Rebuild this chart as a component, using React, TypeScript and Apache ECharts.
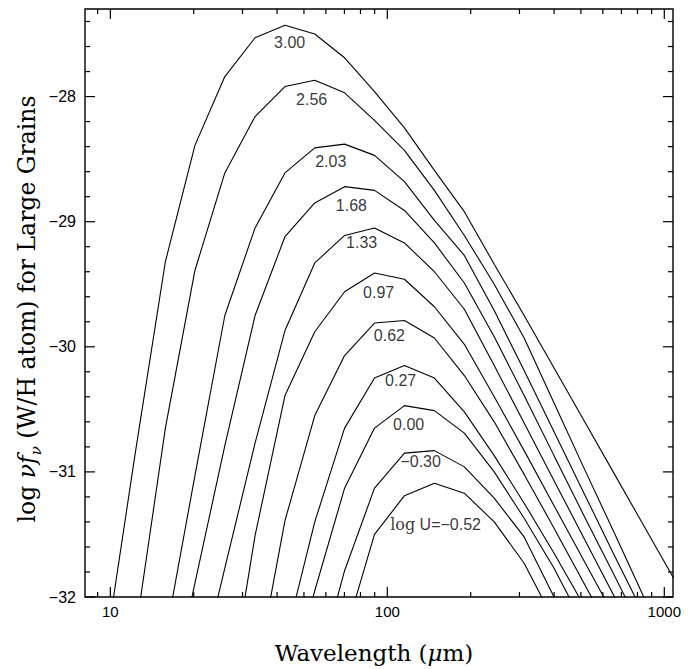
import React, { useEffect, useRef } from "react";
import * as echarts from "echarts";

// Wavelength grid (micron) shared by all spectra
const wavelength = [9.6, 12.3, 15.8, 20.2, 25.9, 33.3, 42.7, 54.7, 70.1, 89.9, 115.3, 147.9, 189.7, 243.2, 311.9, 399.9, 512.9, 657.7, 843.4, 1081];

// log(nu f_nu) per H atom for each radiation intensity log U
const sedU300 = [-32.43, -30.85, -29.32, -28.39, -27.84, -27.53, -27.43, -27.5, -27.69, -27.96, -28.25, -28.59, -28.92, -29.34, -29.75, -30.17, -30.59, -31.01, -31.43, -31.85];
const sedU256 = [null, -32.3, -30.65, -29.39, -28.61, -28.16, -27.92, -27.87, -27.97, -28.19, -28.43, -28.75, -29.11, -29.5, -29.93, -30.45, -30.97, -31.48, -32.0, -32.52];
const sedU203 = [null, null, -32.32, -31.03, -29.75, -29.05, -28.61, -28.41, -28.38, -28.47, -28.68, -28.99, -29.27, -29.71, -30.19, -30.68, -31.17, -31.66, -32.14, null];
const sedU168 = [null, null, -33.0, -31.89, -30.79, -29.75, -29.12, -28.85, -28.72, -28.75, -28.91, -29.17, -29.49, -29.92, -30.39, -30.87, -31.35, -31.82, -32.3, null];
const sedU133 = [null, null, null, -32.77, -31.77, -30.77, -29.87, -29.33, -29.11, -29.05, -29.17, -29.4, -29.7, -30.15, -30.61, -31.07, -31.53, -31.99, -32.44, null];
const sedU097 = [null, null, null, null, -32.99, -31.51, -30.39, -29.88, -29.56, -29.41, -29.46, -29.68, -29.98, -30.4, -30.83, -31.27, -31.71, -32.15, null, null];
const sedU062 = [null, null, null, null, null, -32.67, -31.39, -30.55, -30.07, -29.81, -29.79, -29.93, -30.23, -30.6, -31.02, -31.45, -31.89, -32.33, null, null];
const sedU027 = [null, null, null, null, null, null, -32.36, -31.4, -30.65, -30.25, -30.15, -30.25, -30.52, -30.87, -31.25, -31.65, -32.07, null, null, null];
const sedU000 = [null, null, null, null, null, null, -32.83, -31.95, -31.13, -30.65, -30.47, -30.51, -30.69, -31.0, -31.37, -31.77, -32.23, null, null, null];
const sedUm030 = [null, null, null, null, null, null, null, -32.67, -31.79, -31.13, -30.85, -30.83, -30.96, -31.21, -31.52, -32.0, -32.51, null, null, null];
const sedUm052 = [null, null, null, null, null, null, null, null, -32.31, -31.5, -31.19, -31.09, -31.17, -31.4, -31.73, -32.19, null, null, null, null];

const spectra = [sedU300, sedU256, sedU203, sedU168, sedU133, sedU097, sedU062, sedU027, sedU000, sedUm030, sedUm052];

// Curve annotations: text and anchor (wavelength, level)
const curveLabels = ["3.00", "2.56", "2.03", "1.68", "1.33", "0.97", "0.62", "0.27", "0.00", "\u22120.30", "{s|log} U=\u22120.52"];
const labelWavelength = [44.4, 53.3, 62.5, 74.2, 80.8, 93.0, 101.7, 111.7, 119.4, 131.9, 149.3];
const labelLevel = [-27.57, -28.02, -28.52, -28.87, -29.17, -29.57, -29.91, -30.27, -30.62, -30.92, -31.42];

// Axis extents and tick marks
const X_MIN = 8.1;
const X_MAX = 1075;
const Y_MIN = -32;
const Y_MAX = -27.3;
const xMajorTicks = [10, 100, 1000];
const xMinorTicks = [9, 20, 30, 40, 50, 60, 70, 80, 90, 200, 300, 400, 500, 600, 700, 800, 900];
const yMajorTicks = [-32, -31, -30, -29, -28];
const yMinorTicks = [-31.8, -31.6, -31.4, -31.2, -30.8, -30.6, -30.4, -30.2, -29.8, -29.6, -29.4, -29.2, -28.8, -28.6, -28.4, -28.2, -27.8, -27.6, -27.4];

const SANS = "Liberation Sans, Arial, Helvetica, sans-serif";
const SERIF = "DejaVu Serif, serif";

export default function App() {
  const ref = useRef<HTMLDivElement>(null);

  useEffect(() => {
    if (!ref.current) return;
    const chart = echarts.init(ref.current, undefined, { renderer: "svg" });

    const MAJOR = 10;
    const MINOR = 5;
    const tickData: number[][] = [];
    xMajorTicks.forEach((v) => tickData.push([v, Y_MIN, 0, MAJOR]));
    xMinorTicks.forEach((v) => tickData.push([v, Y_MIN, 0, MINOR]));
    yMajorTicks.forEach((v) => tickData.push([X_MIN, v, 1, MAJOR]));
    yMinorTicks.forEach((v) => tickData.push([X_MIN, v, 1, MINOR]));

    const lineSeries = spectra.map((arr, i) => ({
      type: "line",
      name: curveLabels[i],
      data: wavelength
        .map((w, j) => [w, arr[j]])
        .filter((p) => p[1] !== null),
      showSymbol: false,
      symbol: "none",
      clip: true,
      lineStyle: { color: "#000", width: 1.1 },
      silent: true,
      z: 3,
    }));

    const tickStyle = { stroke: "#000", lineWidth: 1.2 };

    chart.setOption({
      animation: false,
      backgroundColor: "#fff",
      grid: {
        left: 85,
        right: 24,
        top: 9,
        bottom: 72,
        show: true,
        borderColor: "#000",
        borderWidth: 1.4,
        backgroundColor: "transparent",
      },
      xAxis: {
        type: "log",
        logBase: 10,
        min: X_MIN,
        max: X_MAX,
        axisLine: { show: false },
        axisTick: { show: false },
        splitLine: { show: false },
        minorTick: { show: false },
        axisLabel: {
          color: "#000",
          fontFamily: SANS,
          fontSize: 15,
          margin: 7,
          formatter: (v: number) => {
            const l = Math.log10(v);
            return Math.abs(l - Math.round(l)) < 1e-6 ? String(Math.round(v)) : "";
          },
        },
      },
      yAxis: {
        type: "value",
        min: Y_MIN,
        max: Y_MAX,
        interval: 1,
        axisLine: { show: false },
        axisTick: { show: false },
        splitLine: { show: false },
        axisLabel: {
          color: "#000",
          fontFamily: SANS,
          fontSize: 16,
          margin: 9,
          formatter: (v: number) => (Math.abs(v - Math.round(v)) < 1e-6 ? "\u2212" + Math.abs(Math.round(v)) : ""),
        },
      },
      series: [
        ...lineSeries,
        {
          type: "custom",
          name: "ticks",
          silent: true,
          clip: false,
          z: 4,
          data: tickData,
          renderItem: (_p: any, api: any) => {
            const v0 = api.value(0);
            const v1 = api.value(1);
            const kind = api.value(2);
            const len = api.value(3);
            if (kind === 0) {
              const b = api.coord([v0, Y_MIN]);
              const t = api.coord([v0, Y_MAX]);
              return {
                type: "group",
                children: [
                  { type: "line", shape: { x1: b[0], y1: b[1], x2: b[0], y2: b[1] - len }, style: tickStyle },
                  { type: "line", shape: { x1: t[0], y1: t[1], x2: t[0], y2: t[1] + len }, style: tickStyle },
                ],
              };
            }
            const l = api.coord([X_MIN, v1]);
            const r = api.coord([X_MAX, v1]);
            return {
              type: "group",
              children: [
                { type: "line", shape: { x1: l[0], y1: l[1], x2: l[0] + len, y2: l[1] }, style: tickStyle },
                { type: "line", shape: { x1: r[0], y1: r[1], x2: r[0] - len, y2: r[1] }, style: tickStyle },
              ],
            };
          },
        },
        {
          type: "scatter",
          name: "labels",
          silent: true,
          symbolSize: 1,
          itemStyle: { color: "rgba(0,0,0,0)" },
          z: 5,
          data: curveLabels.map((t, i) => ({ name: t, value: [labelWavelength[i], labelLevel[i]] })),
          label: {
            show: true,
            position: "inside",
            formatter: "{b}",
            color: "#000",
            fontFamily: SANS,
            fontSize: 16,
            rich: {
              s: { fontFamily: SERIF, fontSize: 16, color: "#000" },
            },
          },
        },
      ],
      graphic: [
        {
          type: "text",
          x: 374,
          y: 653,
          style: {
            text: "{r|Wavelength (}{i|\u03bc}{r|m)}",
            align: "center",
            verticalAlign: "middle",
            rich: {
              r: { fontFamily: SERIF, fontSize: 23, fill: "#000" },
              i: { fontFamily: SERIF, fontSize: 23, fontStyle: "italic", fill: "#000" },
            },
          },
        },
        {
          type: "text",
          x: 27,
          y: 309,
          rotation: Math.PI / 2,
          style: {
            text: "{r|log }{i|\u03bdf}{sub|\u03bd}{r| (W/H atom) for Large Grains}",
            align: "center",
            verticalAlign: "middle",
            rich: {
              r: { fontFamily: SERIF, fontSize: 23.5, lineHeight: 32, fill: "#000" },
              i: { fontFamily: SERIF, fontSize: 23.5, lineHeight: 32, fontStyle: "italic", fill: "#000" },
              sub: { fontFamily: SERIF, fontSize: 15, fontStyle: "italic", verticalAlign: "bottom", fill: "#000" },
            },
          },
        },
      ],
    });

    return () => chart.dispose();
  }, []);

  return (
    <div
      ref={ref}
      style={{ position: "fixed", left: 0, top: 0, width: 697, height: 669, background: "#fff" }}
    />
  );
}
